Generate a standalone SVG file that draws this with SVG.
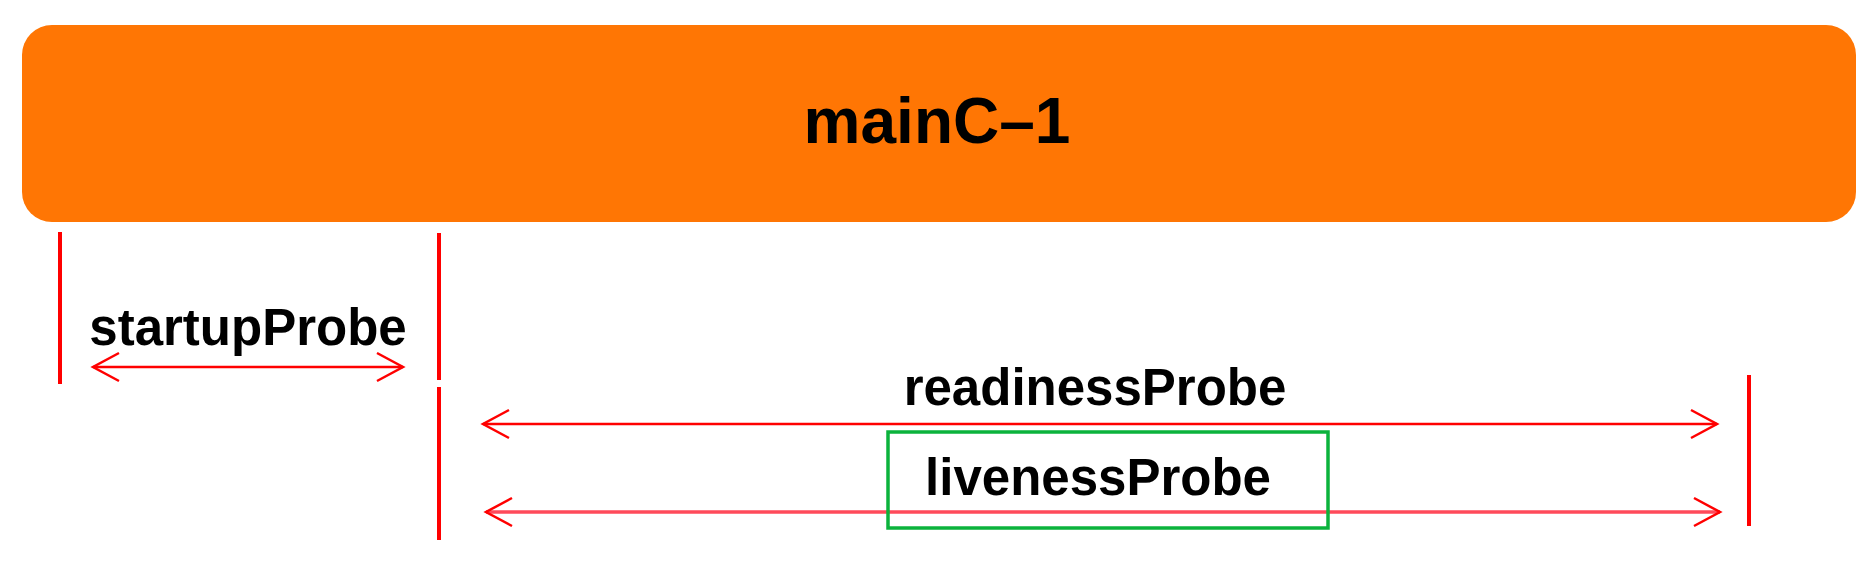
<svg xmlns="http://www.w3.org/2000/svg" width="1874" height="586" viewBox="0 0 1874 586">
<style>
.lbl{font-family:"Liberation Sans",Arial,sans-serif;font-weight:bold;fill:#000;text-anchor:middle}
.tick{stroke:#ff0000;stroke-width:4;fill:none}
.arr{stroke:#ff0000;stroke-width:2.5;fill:none}
.arr2{stroke:#ff4a5a;stroke-width:3.5;fill:none}
</style>
<defs>
<marker id="chev" viewBox="-30 -17 33 34" refX="0" refY="0" markerWidth="33" markerHeight="34" markerUnits="userSpaceOnUse" orient="auto-start-reverse">
<path d="M-26,-14 L0,0 L-26,14" fill="none" stroke="#ff0000" stroke-width="2.5"/>
</marker>
</defs>
<rect width="1874" height="586" fill="#ffffff"/>
<g id="mainC-1">
<rect x="22" y="25" width="1834" height="197" rx="30" ry="30" fill="#ff7604"/>
<text class="lbl" x="937" y="143" font-size="64">mainC–1</text>
</g>
<g id="connectors">
<line class="tick" x1="60" y1="232" x2="60" y2="384"/>
<line class="tick" x1="439" y1="233" x2="439" y2="380"/>
<line class="tick" x1="439" y1="387" x2="439" y2="540"/>
<line class="tick" x1="1749" y1="375" x2="1749" y2="526"/>
<line class="arr" x1="93" y1="367" x2="403" y2="367" marker-start="url(#chev)" marker-end="url(#chev)"/>
<line class="arr" x1="483" y1="424" x2="1717" y2="424" marker-start="url(#chev)" marker-end="url(#chev)"/>
<line class="arr2" x1="486" y1="512" x2="1720" y2="512" marker-start="url(#chev)" marker-end="url(#chev)"/>
</g>
<g id="startupProbe">
<text class="lbl" x="248" y="345" font-size="51">startupProbe</text>
</g>
<g id="readinessProbe">
<text class="lbl" x="1095" y="405" font-size="51">readinessProbe</text>
</g>
<g id="livenessProbe">
<rect x="888" y="432" width="440" height="96" fill="none" stroke="#0bb33c" stroke-width="3.5"/>
<text class="lbl" x="1098" y="495" font-size="51">livenessProbe</text>
</g>
</svg>
